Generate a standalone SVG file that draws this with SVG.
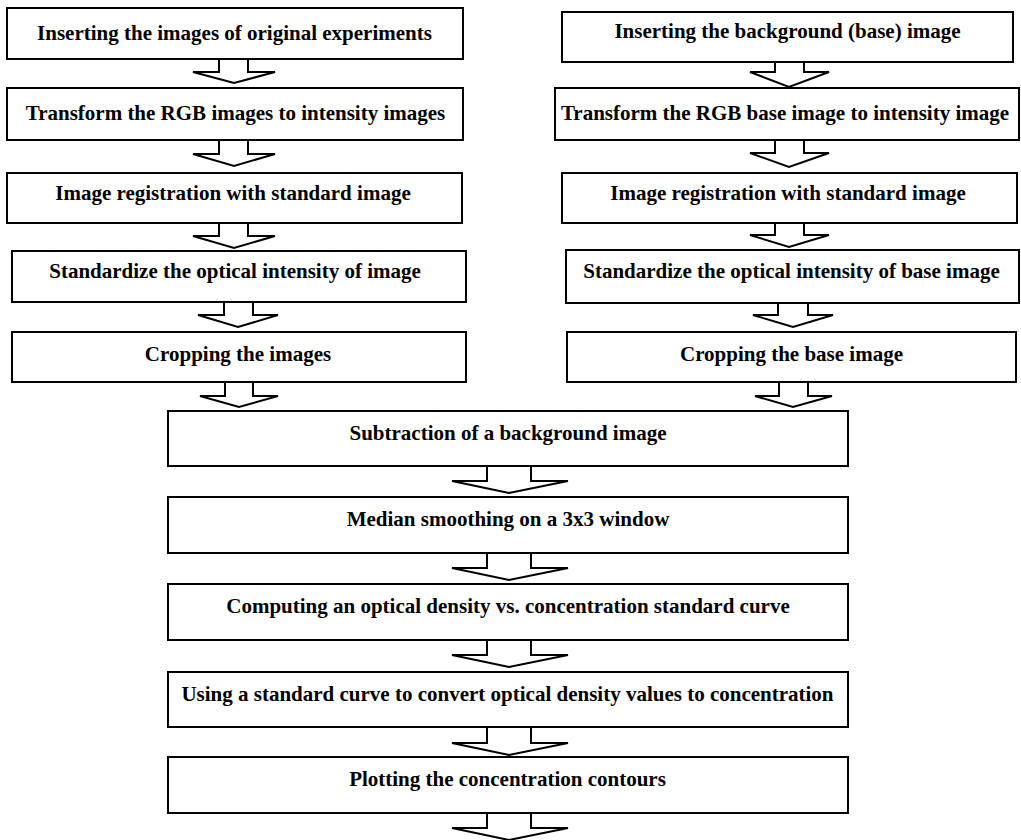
<svg xmlns="http://www.w3.org/2000/svg" width="1021" height="840" viewBox="0 0 1021 840">
<style>
.box{fill:#fff;stroke:#000;stroke-width:2}
.arr{fill:#fff;stroke:#000;stroke-width:2;stroke-linejoin:miter}
.t{font-family:"Liberation Serif","Times New Roman",serif;font-weight:bold;font-size:21px;fill:#000;text-anchor:middle}
</style>
<rect width="1021" height="840" fill="#fff"/>
<g id="connectors">
<path class="arr" d="M219,59 V72 H193 L234,83 L275,72 H248 V59"/>
<path class="arr" d="M219,140 V154 H193 L234,166 L275,154 H248 V140"/>
<path class="arr" d="M219,223 V236 H193 L234,248 L275,236 H248 V223"/>
<path class="arr" d="M224,302 V315 H198 L238,327 L278,315 H253 V302"/>
<path class="arr" d="M225,382 V396 H200 L239,407 L278,396 H253 V382"/>
<path class="arr" d="M775,62 V72 H750 L789,87 L829,72 H804 V62"/>
<path class="arr" d="M775,140 V153 H750 L789,167 L829,153 H804 V140"/>
<path class="arr" d="M775,223 V235 H750 L789,247 L829,235 H804 V223"/>
<path class="arr" d="M778,303 V315 H753 L793,327 L833,315 H808 V303"/>
<path class="arr" d="M779,382 V396 H755 L793,407 L832,396 H808 V382"/>
<path class="arr" d="M487,466 V481 H452 L509,493 L568,481 H531 V466"/>
<path class="arr" d="M487,553 V568 H452 L509,580 L568,568 H531 V553"/>
<path class="arr" d="M487,640 V655 H452 L509,667 L568,655 H531 V640"/>
<path class="arr" d="M487,727 V743 H452 L509,755 L568,743 H531 V727"/>
<path class="arr" d="M487,813 V828 H452 L509,840 L568,828 H531 V813"/>
</g>
<g id="n1"><rect class="box" x="7" y="8" width="456" height="51"/><text class="t" x="234.5" y="40">Inserting the images of original experiments</text></g>
<g id="n2"><rect class="box" x="7" y="88" width="456" height="52"/><text class="t" x="235.5" y="120">Transform the RGB images to intensity images</text></g>
<g id="n3"><rect class="box" x="7" y="173" width="455" height="50"/><text class="t" x="233" y="200">Image registration with standard image</text></g>
<g id="n4"><rect class="box" x="12" y="251" width="454" height="51"/><text class="t" x="235" y="278">Standardize the optical intensity of image</text></g>
<g id="n5"><rect class="box" x="12" y="332" width="454" height="50"/><text class="t" x="238" y="361">Cropping the images</text></g>
<g id="m1"><rect class="box" x="562" y="12" width="451" height="50"/><text class="t" x="787.5" y="38">Inserting the background (base) image</text></g>
<g id="m2"><rect class="box" x="555" y="88" width="464" height="52"/><text class="t" x="785" y="120">Transform the RGB base image to intensity image</text></g>
<g id="m3"><rect class="box" x="562" y="173" width="455" height="50"/><text class="t" x="788" y="200">Image registration with standard image</text></g>
<g id="m4"><rect class="box" x="566" y="250" width="453" height="53"/><text class="t" x="791.5" y="278">Standardize the optical intensity of base image</text></g>
<g id="m5"><rect class="box" x="567" y="332" width="449" height="50"/><text class="t" x="791.5" y="361">Cropping the base image</text></g>
<g id="b1"><rect class="box" x="168" y="411" width="680" height="55"/><text class="t" x="508" y="440">Subtraction of a background image</text></g>
<g id="b2"><rect class="box" x="168" y="497" width="680" height="56"/><text class="t" x="508" y="526">Median smoothing on a 3x3 window</text></g>
<g id="b3"><rect class="box" x="168" y="584" width="680" height="56"/><text class="t" x="508" y="613">Computing an optical density vs. concentration standard curve</text></g>
<g id="b4"><rect class="box" x="168" y="672" width="680" height="55"/><text class="t" x="507.5" y="701">Using a standard curve to convert optical density values to concentration</text></g>
<g id="b5"><rect class="box" x="168" y="757" width="680" height="56"/><text class="t" x="507.5" y="786">Plotting the concentration contours</text></g>
</svg>
